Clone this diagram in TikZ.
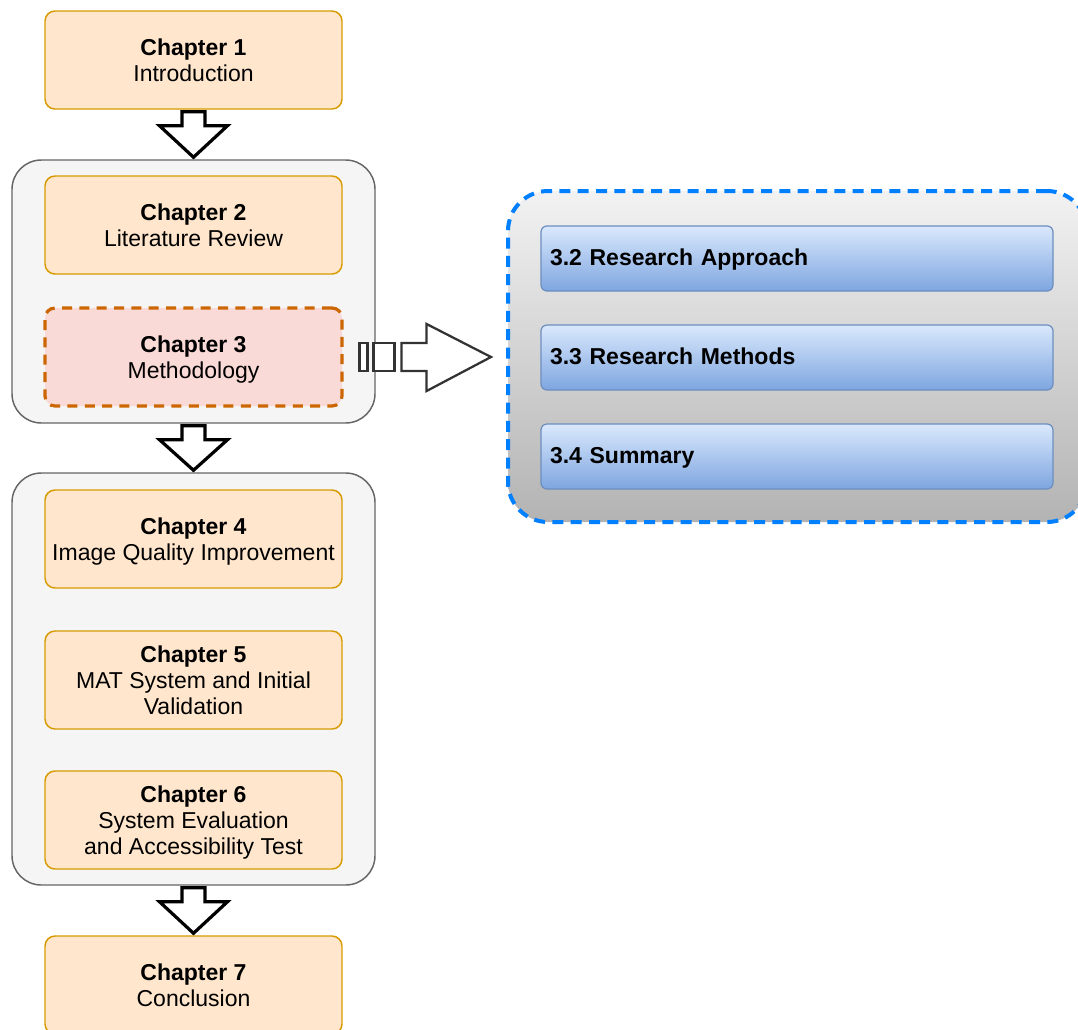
\documentclass[tikz,border=0pt]{standalone}
\usepackage{fontspec}
\setmainfont{Liberation Sans}
\usetikzlibrary{calc}

\definecolor{chfill}{HTML}{FFE6CC}
\definecolor{chdraw}{HTML}{D79B00}
\definecolor{mfill}{HTML}{FADAD6}
\definecolor{mdraw}{HTML}{CC6600}
\definecolor{gfill}{HTML}{F5F5F5}
\definecolor{gdraw}{HTML}{666666}
\definecolor{ptop}{HTML}{F2F2F2}
\definecolor{pbot}{HTML}{B3B3B3}
\definecolor{pdraw}{HTML}{007FFF}
\definecolor{stop}{HTML}{DAE8FC}
\definecolor{sbot}{HTML}{7EA6E0}
\definecolor{sdraw}{HTML}{6C8EBF}
\definecolor{adraw}{HTML}{333333}

% invisible struts that fix the vertical placement of box text
\newcommand\topstrut{\rule{0pt}{16.9pt}}
\newcommand\botstrut{\rule[-3.7pt]{0pt}{3.7pt}}
% chapter label: bold title line, then the description line(s)
\newcommand\chtext[2]{\topstrut\textbf{#1}\\#2\botstrut}

% down-pointing block arrow between two named nodes
\newcommand\blockdown[2]{%
  \draw[blockarrow]
    ($(#1.south)+(-11.5,2)$) -- ($(#1.south)+(11.5,2)$) --
    ($(#1.south)+(11.5,16)$) -- ($(#1.south)+(34,16)$) --
    ($(#2.north)+(0,-2)$) --
    ($(#1.south)+(-34,16)$) -- ($(#1.south)+(-11.5,16)$) -- cycle;}

\begin{document}
\begin{tikzpicture}[x=0.75pt,y=-0.75pt,
  chapter/.style={draw=chdraw, fill=chfill, line width=1.1pt, rounded corners=7.5pt,
    minimum width=222.75pt, minimum height=73.5pt, align=center,
    font=\fontsize{17.25}{19.5}\selectfont},
  method/.style={chapter, draw=mdraw, fill=mfill, line width=2.4pt,
    dash pattern=on 7.5pt off 5.5pt},
  group/.style={draw=gdraw, fill=gfill, line width=1.1pt, rounded corners=22pt},
  panel/.style={draw=pdraw, line width=3pt, dash pattern=on 8.25pt off 5.5pt,
    rounded corners=30pt, top color=ptop, bottom color=pbot,
    minimum width=434.25pt, minimum height=248.25pt},
  section/.style={draw=sdraw, line width=0.9pt, rounded corners=4.5pt,
    top color=stop, bottom color=sbot, minimum width=384pt, minimum height=48.75pt,
    text width=370.5pt, inner xsep=6.75pt, align=left,
    text height=14.9pt, text depth=3.7pt,
    font=\fontsize{17.25}{19.5}\selectfont\bfseries},
  blockarrow/.style={draw=black, fill=white, line width=2.4pt, line join=miter},
  greyarrow/.style={draw=adraw, fill=white, line width=1.7pt, line join=miter}]

\useasboundingbox (0,0) rectangle (1078,1029);
\clip (0,0) rectangle (1078,1029);

% containers
\node[group, minimum width=272.25pt, minimum height=197.25pt] (g1) at (193.5,291.5) {};
\node[group, minimum width=272.25pt, minimum height=309pt] (g2) at (193.5,679) {};

% chapters
\node[chapter] (ch1) at (193.5,60) {\chtext{Chapter 1}{Introduction}};
\node[chapter] (ch2) at (193.5,225) {\chtext{Chapter 2}{Literature Review}};
\node[method]  (ch3) at (193.5,357) {\chtext{Chapter 3}{Methodology}};
\node[chapter] (ch4) at (193.5,539) {\chtext{Chapter 4}{Image Quality Improvement}};
\node[chapter] (ch5) at (193.5,680) {\chtext{Chapter 5}{MAT System and Initial\\Validation}};
\node[chapter] (ch6) at (193.5,820) {\chtext{Chapter 6}{System Evaluation\\and Accessibility Test}};
\node[chapter] (ch7) at (193.5,985) {\chtext{Chapter 7}{Conclusion}};

% flow arrows
\blockdown{ch1}{g1}
\blockdown{g1}{g2}
\blockdown{g2}{ch7}

% methodology detail panel
\node[panel] (panel) at (797.5,356.5) {};
\node[section] (s32) at (797,258.5) {3.2 Research Approach};
\node[section] (s33) at (797,357.5) {3.3 Research Methods};
\node[section] (s34) at (797,456.5) {3.4 Summary};

% expand arrow from chapter 3 to the panel
\draw[greyarrow] ($(ch3.east)+(16,-14)$) rectangle ($(ch3.east)+(24,14)$);
\draw[greyarrow] ($(ch3.east)+(30,-14)$) rectangle ($(ch3.east)+(51,14)$);
\coordinate (tip) at ($(panel.west)+(-15,0.5)$);
\draw[greyarrow]
  ($(ch3.east)+(58,-14)$) -- ($(ch3.east)+(83,-14)$) -- ($(ch3.east)+(83,-33)$) --
  (tip) --
  ($(ch3.east)+(83,34)$) -- ($(ch3.east)+(83,14)$) -- ($(ch3.east)+(58,14)$) -- cycle;

\end{tikzpicture}
\end{document}
